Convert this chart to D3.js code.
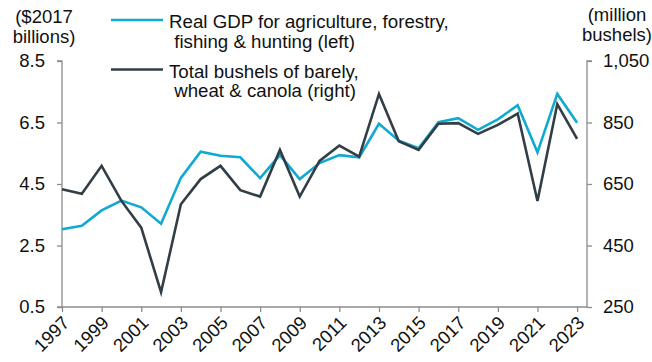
<!DOCTYPE html>
<html>
<head>
<meta charset="utf-8">
<script src="https://cdn.jsdelivr.net/npm/d3@7"></script>
<style>
  html, body { margin: 0; padding: 0; background: #fff; }
  svg { display: block; font-family: "Liberation Sans", Arial, sans-serif; }
</style>
</head>
<body>
<svg id="chart" width="652" height="362"></svg>
<script>
// Years on the horizontal axis
const years = d3.range(1997, 2024);

// Real GDP for agriculture, forestry, fishing & hunting ($2017 billions, left axis)
const gdpValues = [3.03, 3.14, 3.64, 3.96, 3.74, 3.21, 4.70, 5.55, 5.42, 5.37,
                   4.69, 5.44, 4.66, 5.18, 5.44, 5.37, 6.46, 5.91, 5.66, 6.51,
                   6.64, 6.26, 6.60, 7.06, 5.53, 7.43, 6.49];

// Total bushels of barley, wheat & canola (million bushels, right axis)
const bushelValues = [633, 618, 709, 595, 508, 298, 584, 666, 709, 630,
                      609, 761, 609, 725, 775, 739, 943, 789, 761, 846,
                      848, 813, 842, 879, 595, 910, 797];

// Tick labels
const leftTicks = [0.5, 2.5, 4.5, 6.5, 8.5];
const rightTicks = [250, 450, 650, 850, 1050];
const xTicks = d3.range(1997, 2024, 2);

const legendItems = [
  { lines: ["Real GDP for agriculture, forestry,", " fishing & hunting (left)"], color: "#0FA9D1" },
  { lines: ["Total bushels of barely,", " wheat & canola (right)"], color: "#323E47" }
];

const svg = d3.select("#chart");
const plot = { left: 62, right: 587, top: 61, bottom: 307 };
const axisColor = "#8c8c8c";
const textColor = "#111";
const fontSize = 18.5;

const x = d3.scaleLinear().domain([1997, 2023.5]).range([plot.left, plot.right]);
const yLeft = d3.scaleLinear().domain([0.5, 8.5]).range([plot.bottom, plot.top]);
const yRight = d3.scaleLinear().domain([250, 1050]).range([plot.bottom, plot.top]);

// Left axis
const gl = svg.append("g").attr("transform", `translate(${plot.left},0)`)
  .call(d3.axisLeft(yLeft).tickValues(leftTicks).tickSize(5).tickPadding(12)
    .tickFormat(d3.format(".1f")));
// Right axis
const gr = svg.append("g").attr("transform", `translate(${plot.right},0)`)
  .call(d3.axisRight(yRight).tickValues(rightTicks).tickSize(5).tickPadding(11)
    .tickFormat(d3.format(",")));
// Bottom axis
const gb = svg.append("g").attr("transform", `translate(0,${plot.bottom})`)
  .call(d3.axisBottom(x).tickValues(xTicks).tickSize(5).tickFormat(d3.format("d")));

[gl, gr, gb].forEach(g => {
  g.select(".domain").attr("stroke", axisColor).attr("stroke-width", 1.3);
  g.selectAll(".tick line").attr("stroke", axisColor).attr("stroke-width", 1.3);
  g.selectAll(".tick text").attr("fill", textColor).attr("font-size", fontSize)
    .attr("font-family", "Liberation Sans, Arial, sans-serif");
});
gl.select(".domain").attr("d", `M-5,${plot.top}H0V${plot.bottom}H-5`);
gr.select(".domain").attr("d", `M5,${plot.top}H0V${plot.bottom}`);
gb.select(".domain").attr("d", `M${plot.left},0H${plot.right}`);

gb.selectAll(".tick text")
  .attr("text-anchor", "end")
  .attr("dy", null)
  .attr("y", 0)
  .attr("transform", "translate(8,17) rotate(-45)");

// Series lines
const lineLeft = d3.line().x((d, i) => x(years[i])).y(d => yLeft(d));
const lineRight = d3.line().x((d, i) => x(years[i])).y(d => yRight(d));

svg.append("path").datum(gdpValues)
  .attr("d", lineLeft).attr("fill", "none")
  .attr("stroke", legendItems[0].color).attr("stroke-width", 2.6)
  .attr("stroke-linejoin", "miter");
svg.append("path").datum(bushelValues)
  .attr("d", lineRight).attr("fill", "none")
  .attr("stroke", legendItems[1].color).attr("stroke-width", 2.6)
  .attr("stroke-linejoin", "miter");

// Axis titles
const leftTitle = svg.append("text").attr("fill", textColor).attr("font-size", fontSize)
  .attr("text-anchor", "middle");
leftTitle.append("tspan").attr("x", 44).attr("y", 22.5).text("($2017");
leftTitle.append("tspan").attr("x", 44).attr("y", 42.5).text("billions)");

const rightTitle = svg.append("text").attr("fill", textColor).attr("font-size", fontSize)
  .attr("text-anchor", "middle");
rightTitle.append("tspan").attr("x", 617).attr("y", 21).text("(million");
rightTitle.append("tspan").attr("x", 617).attr("y", 41).text("bushels)");

// Legend
const legend = svg.append("g");
legendItems.forEach((item, i) => {
  const y0 = 20 + i * 49.5;
  legend.append("line")
    .attr("x1", 111).attr("x2", 163).attr("y1", y0).attr("y2", y0)
    .attr("stroke", item.color).attr("stroke-width", 2.6);
  const t = legend.append("text").attr("fill", textColor).attr("font-size", 18.7)
    .attr("xml:space", "preserve").style("white-space", "pre");
  item.lines.forEach((ln, j) => {
    t.append("tspan").attr("x", 169).attr("y", y0 + 8 + j * 19.5).text(ln);
  });
});
</script>
</body>
</html>
